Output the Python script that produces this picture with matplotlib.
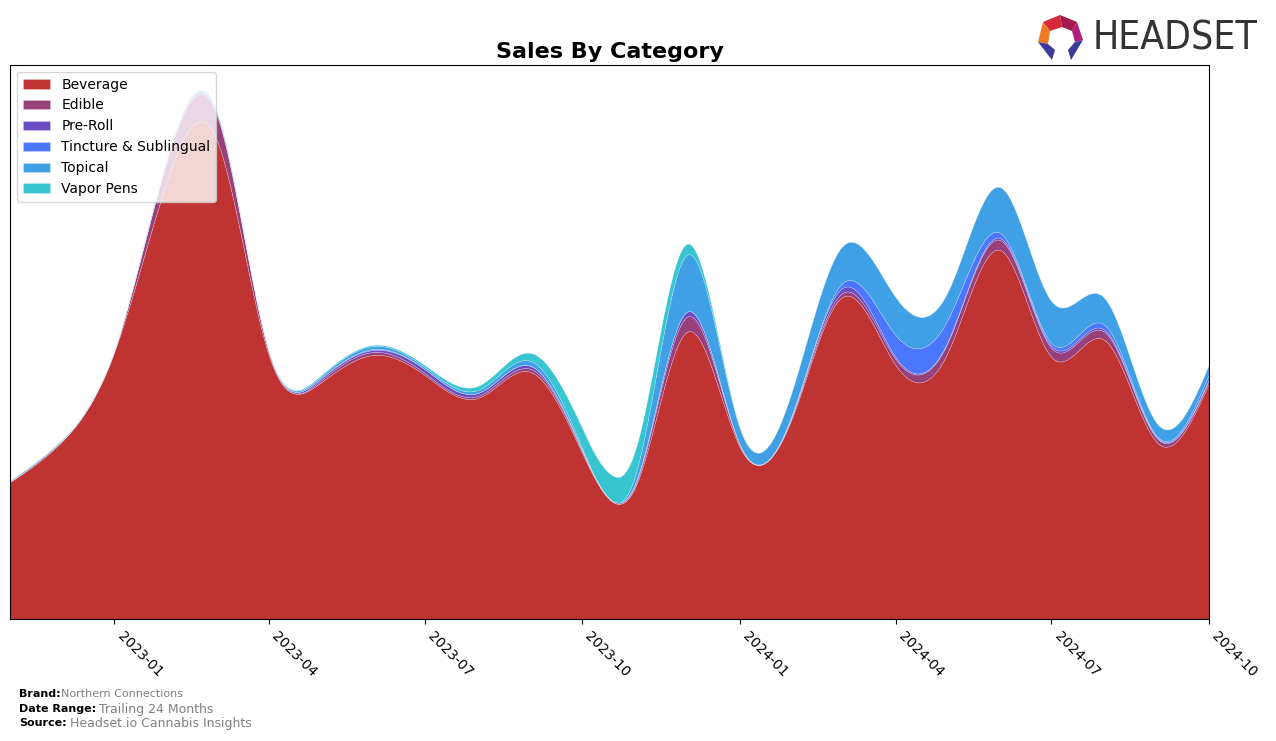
import numpy as np
import pandas as pd
import matplotlib
matplotlib.use("Agg")
import matplotlib.pyplot as plt
import matplotlib.dates as mdates
from matplotlib.patches import Polygon

# ---------------- data (monthly sales, arbitrary units) ----------------
months = pd.date_range("2022-11-01", "2024-10-01", freq="MS")
categories = ["Beverage", "Edible", "Pre-Roll", "Tincture & Sublingual", "Topical", "Vapor Pens"]
beverage = [137, 177, 268, 440, 482, 264, 236, 264, 244, 221, 247, 166,
            132, 287, 172, 203, 322, 254, 265, 369, 262, 279, 176, 236]
edible = [0.5, 1, 1, 21, 25, 3, 2, 3, 2, 2, 3, 2,
          2, 15, 2, 2, 4, 6, 10, 10, 9, 8, 4, 3]
preroll = [0, 0, 0, 1, 2, 1, 2, 2, 4, 3, 3, 1,
           2, 5, 1, 1, 5, 2, 1, 2, 2, 2, 1, 1]
tincture = [0, 0, 0, 0, 0, 0, 0, 1, 0, 0, 0, 0,
            0, 0, 0, 1, 5, 22, 22, 5, 3, 5, 1, 5]
topical = [1, 1, 1, 2, 2, 1, 2, 3, 2, 3, 5, 2,
           8, 57, 16, 24, 37, 38, 28, 46, 42, 27, 13, 10]
vapor = [0, 0, 0, 0, 0, 0, 1, 1, 2, 4, 8, 20,
         25, 11, 1, 0, 0, 0, 0, 0, 0, 0, 0, 0]
colors = ["#c03333", "#97407a", "#6a4bc4", "#4a77fe", "#3fa0e6", "#36c5d1"]
tick_labels = ["2023-01", "2023-04", "2023-07", "2023-10",
               "2024-01", "2024-04", "2024-07", "2024-10"]


def natural_spline(x, y, xs):
    x = np.asarray(x, float)
    y = np.asarray(y, float)
    n = len(x)
    h = np.diff(x)
    A = np.zeros((n, n))
    b = np.zeros(n)
    A[0, 0] = 1
    A[-1, -1] = 1
    for i in range(1, n - 1):
        A[i, i - 1] = h[i - 1]
        A[i, i] = 2 * (h[i - 1] + h[i])
        A[i, i + 1] = h[i]
        b[i] = 3 * ((y[i + 1] - y[i]) / h[i] - (y[i] - y[i - 1]) / h[i - 1])
    c = np.linalg.solve(A, b)
    idx = np.clip(np.searchsorted(x, xs) - 1, 0, n - 2)
    dx = xs - x[idx]
    bb = (y[idx + 1] - y[idx]) / h[idx] - h[idx] * (2 * c[idx] + c[idx + 1]) / 3
    d = (c[idx + 1] - c[idx]) / (3 * h[idx])
    return y[idx] + bb * dx + c[idx] * dx ** 2 + d * dx ** 3


xnum = mdates.date2num(months)
xs = np.linspace(xnum[0], xnum[-1], 1500)
series = [beverage, edible, preroll, tincture, topical, vapor]
smooth = [np.clip(natural_spline(xnum, s, xs), 0, None) for s in series]

fig = plt.figure(figsize=(12.76, 7.41), dpi=100)
ax = fig.add_axes([10 / 1276, 1 - 619 / 741, 1199 / 1276, 554 / 741])
ax.stackplot(mdates.num2date(xs), *smooth, labels=categories, colors=colors,
             linewidth=0.4, edgecolor=(1, 1, 1, 0.35))
ax.set_xlim(months[0], months[-1])
ax.set_ylim(0, 554)
ax.set_yticks([])
ticks = pd.to_datetime(tick_labels)
ax.set_xticks(ticks)
ax.set_xticklabels(tick_labels, rotation=-45, ha="left", fontsize=10)
ax.set_title("Sales By Category", fontsize=16, fontweight="bold", pad=5)
leg = ax.legend(loc="upper left", fontsize=10, framealpha=0.8,
                borderaxespad=0.5)

# footer
fig.text(19 / 1276, 1 - 694 / 741, "Brand:", fontsize=8, fontweight="bold", va="center")
fig.text(61 / 1276, 1 - 694 / 741, "Northern Connections", fontsize=8, color="gray", va="center")
fig.text(19 / 1276, 1 - 709 / 741, "Date Range:", fontsize=8, fontweight="bold", va="center")
fig.text(99 / 1276, 1 - 709 / 741, "Trailing 24 Months", fontsize=9, color="gray", va="center")
fig.text(19 / 1276, 1 - 723 / 741, "Source:", fontsize=8, fontweight="bold", va="center")
fig.text(70 / 1276, 1 - 723 / 741, "Headset.io Cannabis Insights", fontsize=9, color="gray", va="center")

# logo
fig.text(1093 / 1276, 1 - 39 / 741, "HEADSET", fontsize=28, color="#333333",
         va="center", ha="left", family="DejaVu Sans", fontstretch="condensed")
def P(pts, c):
    fig.patches.append(Polygon([(px / 1276, 1 - py / 741) for px, py in pts],
                               closed=True, transform=fig.transFigure,
                               facecolor=c, edgecolor="none"))
P([(1043, 22), (1060, 15), (1062, 27), (1050, 31)], "#d42a3a")
P([(1060, 15), (1077, 22), (1072, 31), (1062, 27)], "#a3194b")
P([(1077, 22), (1083, 40), (1075, 42), (1072, 31)], "#b0207a")
P([(1043, 22), (1050, 31), (1048, 44), (1038, 42)], "#f07b22")
P([(1038, 42), (1048, 44), (1055, 50), (1052, 60)], "#3b3b9c")
P([(1083, 40), (1075, 42), (1068, 50), (1071, 60)], "#3b3b9c")

fig.savefig("out.png", dpi=100)
